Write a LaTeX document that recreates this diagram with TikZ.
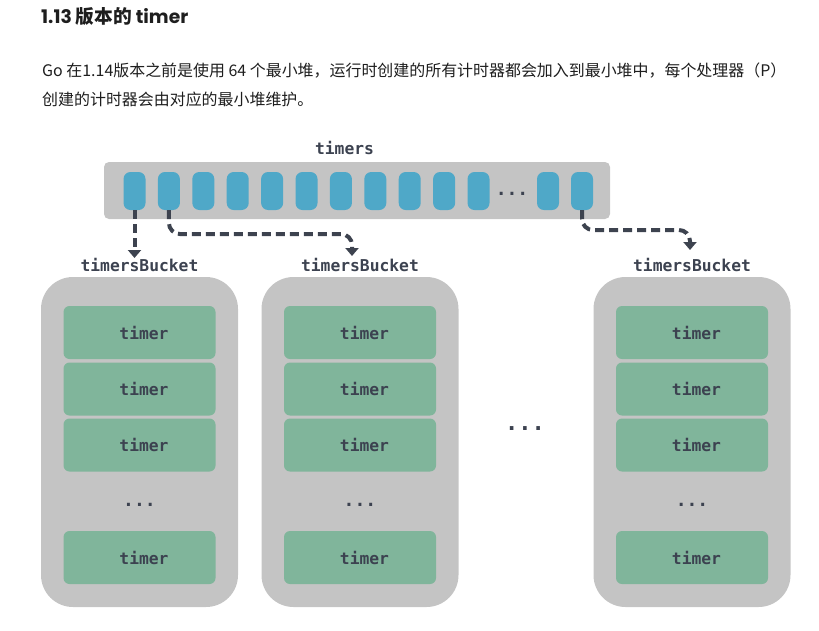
\documentclass[tikz,border=0pt]{standalone}
\usepackage{fontspec}
\usetikzlibrary{arrows.meta}
\newfontfamily\cjk{Noto Sans CJK SC}
\newfontfamily\poppins{Poppins}
\newfontfamily\monof{DejaVu Sans Mono}
\definecolor{bargray}{HTML}{C4C4C4}
\definecolor{cellblue}{HTML}{4FA8C8}
\definecolor{boxgreen}{HTML}{80B59B}
\definecolor{ink}{HTML}{3C4250}
\definecolor{arrowc}{HTML}{3D434F}
\definecolor{bodyc}{HTML}{1E1E1E}
\tikzset{
  cellbox/.style={fill=cellblue, rounded corners=7pt, minimum width=22pt, minimum height=38pt, inner sep=0pt},
  bucketbox/.style={fill=bargray, rounded corners=32pt, minimum width=197pt, minimum height=330pt, inner sep=0pt},
  timerbox/.style={fill=boxgreen, rounded corners=6pt, minimum width=152pt, minimum height=53pt, inner sep=0pt, text=ink, font=\monof\bfseries\fontsize{16.3}{16}\selectfont},
  monolabel/.style={text=ink, inner sep=0pt, font=\monof\bfseries\fontsize{16.3}{16}\selectfont},
  dotlabel/.style={text=ink, inner sep=0pt, font=\monof\bfseries\fontsize{18}{18}\selectfont},
  linkarrow/.style={draw=arrowc, line width=4pt, dash pattern=on 9pt off 5pt, rounded corners=11pt, -{Triangle[width=13pt,length=8pt]}}
}
\begin{document}
\begin{tikzpicture}[x=1pt,y=-1pt]
\useasboundingbox (0,0) rectangle (819,630);
% title and body text
\node[anchor=west, inner sep=0pt, text=bodyc] (title) at (41,17) {\fontsize{18.7}{21}\selectfont\poppins\bfseries 1.13 {\cjk\bfseries 版本的} timer};
\node[anchor=west, inner sep=0pt, text=bodyc] (line1) at (42,71) {\cjk\fontsize{15.95}{18}\selectfont Go 在1.14版本之前是使用 64 个最小堆，运行时创建的所有计时器都会加入到最小堆中，每个处理器（P）};
\node[anchor=west, inner sep=0pt, text=bodyc] (line2) at (42,99) {\cjk\fontsize{15.95}{18}\selectfont 创建的计时器会由对应的最小堆维护。};
% timers bar
\node[monolabel] (timerslbl) at (344.5,148) {timers};
\node[fill=bargray, rounded corners=5pt, minimum width=506pt, minimum height=57pt, inner sep=0pt] (bar) at (357,190.5) {};
\foreach \i in {1,...,11} {
  \node[cellbox] (c\i) at ({134.5+34.4*(\i-1)},191) {};
}
\node[cellbox] (c12) at (548,191) {};
\node[cellbox] (c13) at (582,191) {};
\node[dotlabel] (bardots) at (512,194) {...};
% buckets
\foreach \n/\x in {1/139.5, 2/360, 3/692} {
  \node[monolabel] (bl\n) at (\x,265) {timersBucket};
  \node[bucketbox] (b\n) at (\x,442) {};
  \node[timerbox] (t\n a) at (\x,332.5) {\hspace*{9pt}timer};
  \node[timerbox] (t\n b) at (\x,389) {\hspace*{9pt}timer};
  \node[timerbox] (t\n c) at (\x,445) {\hspace*{9pt}timer};
  \node[dotlabel] (d\n) at (\x,505) {...};
  \node[timerbox] (t\n d) at (\x,557.5) {\hspace*{9pt}timer};
}
\node[text=ink, inner sep=0pt, font=\monof\bfseries\fontsize{22}{22}\selectfont] (middots) at (525,429) {...};
% arrows
\coordinate (e1) at (134.5,258);
\coordinate (e2) at (352,256);
\coordinate (e3) at (690,250);
\draw[linkarrow] (c1.south) -- (e1);
\draw[linkarrow] (c2.south) |- (352,234) -- (e2);
\draw[linkarrow] (c13.south) |- (690,230) -- (e3);
\end{tikzpicture}
\end{document}
